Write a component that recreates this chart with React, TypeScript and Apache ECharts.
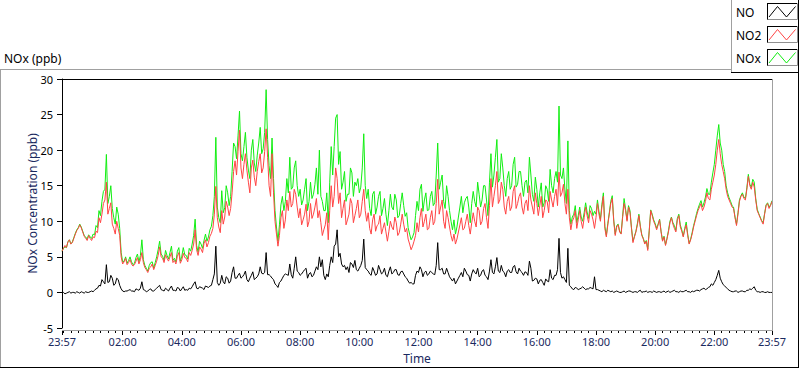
import React, { useEffect, useRef } from "react";
import * as echarts from "echarts";

// sampling interval of the series, minutes after 23:57
const SAMPLE_MINUTES = 3;

const NO2_VALUES = [
  5.8, 6.2, 6.6, 6.3, 7.1, 7.4, 6.8, 7.0, 7.6, 8.2, 8.7, 9.0, 9.5, 9.1, 8.5, 7.9, 7.6, 7.3, 8.0, 7.6, 7.3, 7.8, 7.7, 8.6, 8.4, 10.5, 9.8, 11.0,
  12.5, 13.0, 15.5, 11.0, 11.8, 12.6, 9.6, 9.0, 8.2, 10.0, 9.0, 8.0, 5.0, 4.0,
  4.3, 4.8, 3.9, 4.2, 4.6, 4.0, 3.7, 3.9, 4.4, 4.9, 4.0, 4.6, 5.6, 4.2, 3.5, 3.2, 2.8, 3.4, 3.6, 4.0, 3.2, 3.8, 4.4, 5.2, 6.4, 5.0, 4.8, 4.2, 5.3, 4.8, 4.4, 5.0, 5.6, 4.2, 4.5, 4.0, 5.1, 5.6, 4.1, 4.6, 5.5, 4.9, 4.8, 4.3, 5.6, 5.2, 5.9, 6.8, 8.8, 6.0, 5.2, 6.4, 6.1, 5.6, 6.9, 7.4, 6.4, 7.0, 7.9, 8.3,
  9.0, 11.0, 14.9, 10.5, 9.2, 8.4, 11.5, 9.6, 10.6, 12.8, 12.0, 10.8, 11.8, 14.0, 17.0, 18.5, 16.5, 19.8, 22.8, 17.5, 16.0, 18.0, 19.5, 17.2, 15.5, 14.0, 17.5, 18.6, 16.2, 15.0, 17.0, 18.4, 19.5, 16.8, 17.5, 19.8, 23.0, 19.0, 15.0, 13.5, 19.5, 14.0, 10.0, 8.2, 6.5, 8.0, 10.5, 11.5, 9.0, 10.2,
  13.0, 11.5, 14.2, 12.0, 12.5, 14.5, 13.8, 12.0, 10.5, 11.8, 9.5, 10.2, 11.0, 12.4, 9.2, 10.0, 12.5, 10.4, 11.0, 12.0, 13.2, 10.5, 11.5, 9.8, 8.0, 8.8, 9.5, 11.2, 7.4, 11.5, 15.0, 12.0, 13.5, 17.5, 16.0, 12.5, 14.0, 10.5, 11.8, 13.0, 9.5, 10.2, 11.0, 13.2, 12.5, 9.8, 10.8, 11.8, 13.0, 10.5,
  11.0, 12.8, 14.5, 11.5, 10.0, 11.2, 9.0, 8.2, 10.2, 11.0, 8.6, 9.4, 9.6, 10.8, 8.2, 9.0, 9.8, 8.5, 7.2, 8.6, 10.0, 9.2, 8.8, 10.6, 9.8, 8.0, 8.4, 9.6, 11.0, 9.6, 8.5, 9.0, 7.5, 6.8, 6.0, 6.5, 7.2, 8.0, 9.8, 8.5, 10.5, 11.8, 9.2, 10.0, 11.0, 8.8, 9.0, 10.5, 11.5, 9.5,
  10.0, 12.5, 15.9, 11.0, 12.0, 13.0, 10.0, 9.0, 11.5, 10.5, 9.2, 8.0, 7.2, 8.2, 6.8, 7.5, 8.5, 9.5, 10.5, 8.8, 9.0, 10.0, 11.0, 9.4, 8.2, 9.8, 11.2, 10.0, 9.2, 12.0, 11.5, 9.5, 10.0, 11.8, 12.5, 10.5, 9.0, 12.2, 16.0, 12.0, 13.5, 15.0, 17.0, 12.5, 13.0, 15.5, 14.5, 12.0, 11.0, 12.8,
  13.5, 11.5, 12.0, 14.2, 15.0, 11.8, 12.5, 13.5, 14.0, 12.0, 11.0, 12.5, 13.0, 11.5, 15.0, 13.0, 12.0, 11.0, 14.0, 12.5, 10.8, 12.2, 13.5, 10.5, 11.5, 13.0, 12.8, 11.2, 14.2, 13.0, 12.0, 13.5, 14.5, 12.2, 16.9, 13.5, 14.0, 15.2, 12.5, 11.0, 14.5, 10.5, 8.8, 10.0, 10.5, 11.5, 9.0, 10.2, 11.5, 10.0,
  9.0, 10.5, 12.0, 10.8, 9.8, 11.5, 11.0, 10.2, 9.0, 10.5, 12.5, 11.0, 10.0, 12.0, 13.5, 9.0, 7.8, 9.5, 11.0, 12.5, 13.2, 10.0, 8.0, 9.2, 9.5, 8.5, 8.2, 10.5, 12.5, 11.5, 10.0, 12.0, 11.2, 9.0, 7.0, 7.8, 8.5, 9.5, 10.8, 9.2, 8.0, 7.5, 6.8, 7.2, 5.9, 8.6, 11.5, 10.8, 10.0, 9.5,
  8.8, 9.5, 10.2, 8.5, 7.2, 7.8, 6.6, 7.5, 8.5, 9.8, 10.5, 9.6, 9.0, 8.5, 10.2, 10.8, 9.2, 8.6, 7.8, 8.8, 9.5, 8.0, 6.8, 7.4, 8.2, 9.2, 10.0, 10.8, 11.5, 12.0, 12.5, 11.5, 12.0, 12.8, 14.0, 13.2, 13.0, 14.5, 15.5, 16.5, 18.0, 20.0, 21.5, 19.5, 18.0, 17.0, 16.0, 14.5, 13.5, 13.0,
  12.5, 12.0, 11.8, 10.5, 9.4, 11.0, 12.8, 13.5, 13.8, 13.2, 13.0, 14.5, 16.3, 15.0, 14.5, 15.5, 14.8, 13.0, 11.5, 11.0, 10.5, 10.0, 9.6, 11.0, 12.2, 12.5, 11.8, 12.2, 12.8,
];

const NO_VALUES = [
  -0.1, 0.0, -0.2, -0.1, 0, 0.1, -0.1, 0.0, 0, -0.1, 0.1, 0.0, -0.1, 0.1, 0, -0.1, 0.1, 0.0, 0, 0.1, 0.2, 0.1, 0.3, 0.5, 0.6, 1.0, 0.9, 1.8,
  1.5, 1.2, 3.9, 1.4, 1.5, 2.4, 2.0, 1.0, 1.2, 2.0, 1.8, 1.0, 0.5, 0.2,
  0.1, 0.2, 0.2, 0.3, 0.4, 0.2, 0.2, 0.1, 0.5, 0.4, 0.3, 0.6, 1.5, 0.4, 0.3, 0.1, 0.2, 0.4, 0.5, 0.2, 0.2, 0.4, 0.6, 0.8, 1.0, 0.4, 0.3, 0.2, 0.6, 0.4, 0.2, 0.6, 0.9, 0.3, 0.3, 0.2, 0.7, 0.6, 0.2, 0.5, 0.8, 0.3, 0.4, 0.3, 0.6, 0.5, 0.8, 1.2, 1.5, 0.6, 0.5, 0.8, 0.7, 0.6, 0.4, 0.9, 0.8, 0.7, 0.9, 1.0,
  1.8, 2.6, 6.5, 1.4, 1.0, 1.3, 2.4, 1.5, 1.2, 2.2, 2.0, 1.3, 1.6, 2.8, 3.6, 2.0, 2.0, 2.4, 2.7, 2.0, 2.2, 2.5, 3.0, 1.8, 1.5, 2.0, 2.4, 2.9, 1.8, 2.0, 2.2, 2.6, 3.6, 2.7, 2.6, 2.8, 5.6, 2.5, 2.5, 2.3, 2.0, 1.8, 1.2, 1.0, 0.7, 1.4, 1.6, 2.0, 2.4, 2.6,
  2.5, 2.4, 4.0, 2.5, 2.0, 3.4, 5.0, 3.0, 2.8, 2.4, 2.6, 2.9, 3.2, 3.4, 2.0, 2.6, 2.8, 2.2, 2.4, 3.0, 3.6, 3.2, 5.0, 3.6, 4.6, 2.4, 1.8, 2.6, 2.2, 3.8, 5.0, 4.2, 6.5, 6.8, 8.8, 5.0, 5.5, 4.0, 3.6, 3.8, 3.2, 3.6, 2.8, 4.2, 4.0, 3.5, 4.5, 3.2, 3.0, 3.4,
  3.8, 4.5, 7.5, 3.5, 3.2, 3.0, 2.6, 2.4, 3.5, 3.0, 2.4, 2.6, 3.8, 3.2, 2.6, 2.8, 3.4, 2.4, 2.2, 3.0, 3.6, 2.6, 2.8, 3.2, 3.2, 2.5, 2.4, 2.9, 3.0, 2.6, 2.2, 2.0, 1.6, 1.3, 1.4, 1.2, 1.2, 2.4, 3.0, 2.8, 3.6, 3.2, 2.2, 2.8, 3.0, 2.4, 2.6, 3.0, 2.8, 2.6,
  2.5, 3.8, 7.0, 3.2, 3.2, 3.4, 2.6, 2.6, 3.4, 2.8, 2.2, 1.9, 1.6, 2.0, 1.2, 1.6, 2.0, 2.4, 2.8, 2.2, 3.4, 3.0, 2.5, 2.4, 1.6, 2.6, 3.2, 2.8, 2.6, 3.4, 2.2, 2.4, 3.0, 3.2, 2.4, 2.2, 1.8, 3.0, 4.6, 2.8, 2.6, 3.6, 4.9, 3.0, 2.8, 3.8, 3.0, 2.8, 2.2, 3.0,
  3.2, 2.8, 2.8, 3.6, 3.8, 2.9, 2.6, 3.4, 3.0, 2.8, 2.4, 2.9, 2.8, 2.4, 4.4, 3.4, 1.6, 1.7, 2.0, 1.9, 1.2, 1.7, 1.8, 1.4, 1.0, 1.9, 1.6, 1.5, 3.2, 2.0, 1.8, 2.4, 2.4, 3.2, 7.6, 2.8, 2.0, 2.2, 1.8, 1.4, 6.2, 1.0, 0.8, 0.5, 0.4, 0.7, 0.6, 0.4, 0.5, 0.6,
  0.8, 0.6, 0.4, 0.5, 0.5, 0.7, 0.6, 0.5, 2.2, 0.4, 0.4, 0.3, 0.2, 0.1, 0.3, 0.2, 0.1, 0.3, 0.2, 0.1, 0.2, 0.0, 0.1, 0.2, 0.1, 0.0, 0.0, 0.1, 0.2, 0.0, 0.1, 0.2, 0.2, 0.1, 0.0, 0.1, 0.1, 0.0, 0.2, 0.3, 0.0, 0.1, 0.1, 0.2, 0.0, 0.1, 0.1, 0.0, 0.2, 0.1,
  0.0, 0.1, 0.1, 0.0, 0.1, 0.2, 0.0, 0.1, 0.2, 0.0, 0.1, 0.2, 0.3, 0.1, 0.1, 0.0, 0.2, 0.1, 0.1, 0.2, 0.3, 0.1, 0.1, 0.0, 0.2, 0.1, 0.2, 0.3, 0.3, 0.2, 0.4, 0.5, 0.6, 0.4, 0.5, 0.7, 0.8, 1.2, 1.0, 1.4, 1.8, 2.4, 3.1, 2.0, 1.5, 1.1, 0.9, 0.7, 0.5, 0.3,
  0.2, 0.1, 0.1, 0.2, 0.2, 0.0, 0.1, 0.2, 0.2, 0.1, 0.1, 0.3, 0.3, 0.5, 0.4, 0.6, 0.8, 0.3, 0.1, 0.1, 0.0, 0.1, 0.1, 0.0, 0.0, 0.1, 0.0, 0.0, 0.0,
];

const NOX_VALUES = [
  5.8, 6.2, 6.4, 6.3, 7.1, 7.4, 6.8, 7.1, 7.7, 8.3, 8.8, 9.1, 9.6, 9.2, 8.6, 8.0, 7.8, 7.5, 8.1, 7.8, 7.6, 8.2, 8.1, 9.4, 9.1, 11.5, 10.8, 12.8,
  14.2, 14.5, 19.4, 12.5, 13.5, 15.0, 11.8, 10.5, 9.6, 12.0, 11.0, 9.0, 5.6, 4.3,
  4.4, 5.0, 4.1, 4.5, 5.0, 4.3, 3.9, 4.1, 4.9, 5.4, 4.3, 5.2, 7.4, 4.6, 3.8, 3.4, 3.0, 3.8, 4.2, 4.3, 3.4, 4.2, 5.0, 6.0, 7.2, 5.4, 5.1, 4.5, 5.9, 5.2, 4.7, 5.6, 6.5, 4.5, 4.8, 4.3, 5.8, 6.3, 4.4, 5.1, 6.3, 5.3, 5.2, 4.7, 6.2, 5.8, 6.8, 8.0, 10.3, 6.6, 5.7, 7.2, 6.8, 6.2, 7.3, 8.2, 7.2, 7.8, 8.8, 9.3,
  10.8, 13.5, 21.8, 12.0, 10.5, 9.8, 14.3, 11.2, 11.9, 15.0, 14.0, 12.2, 13.5, 17.0, 21.0, 20.5, 18.8, 22.0, 25.5, 19.5, 18.5, 20.5, 22.5, 19.0, 17.2, 16.0, 20.0, 21.5, 18.2, 17.0, 19.3, 21.0, 23.2, 19.5, 20.2, 22.5, 28.5, 21.5, 17.8, 16.0, 21.7, 16.0, 11.5, 9.2, 7.2, 9.5, 12.3, 13.5, 11.5, 12.8,
  16.0, 14.0, 19.0, 14.5, 14.8, 17.5, 18.5, 15.0, 13.5, 14.5, 12.3, 13.0, 14.5, 16.0, 11.5, 12.8, 15.5, 13.2, 13.8, 15.2, 17.5, 13.8, 20.0, 13.5, 12.8, 11.5, 11.5, 14.0, 9.8, 15.5, 20.5, 16.5, 20.5, 24.5, 25.0, 18.0, 19.8, 14.5, 15.5, 17.0, 12.8, 13.8, 13.8, 17.5, 16.8, 13.5, 15.5, 15.0, 16.0, 14.0,
  14.8, 17.5, 22.3, 15.0, 13.2, 14.5, 11.8, 10.8, 13.8, 14.2, 11.0, 12.0, 13.5, 14.2, 10.8, 11.8, 13.2, 11.0, 9.4, 11.5, 13.8, 12.0, 11.6, 13.8, 13.0, 10.5, 10.8, 12.5, 14.0, 12.2, 10.7, 11.2, 9.1, 8.2, 7.4, 7.8, 8.4, 10.8, 12.8, 11.5, 14.5, 15.2, 11.4, 13.0, 14.0, 11.5, 11.6, 13.5, 14.2, 12.2,
  12.6, 16.5, 21.0, 14.5, 15.5, 16.5, 12.8, 11.8, 15.0, 13.5, 11.5, 10.0, 8.8, 10.2, 8.2, 9.2, 10.6, 12.0, 13.5, 11.2, 12.6, 13.2, 13.5, 12.0, 9.8, 12.5, 14.2, 12.8, 12.0, 15.5, 13.8, 12.0, 13.0, 15.0, 15.0, 13.0, 10.8, 15.5, 19.5, 14.8, 16.5, 19.0, 21.5, 15.5, 16.0, 19.5, 17.5, 15.0, 13.5, 16.0,
  17.0, 14.5, 15.0, 18.0, 19.0, 14.8, 15.2, 17.0, 17.0, 15.0, 13.5, 15.5, 15.8, 14.0, 19.0, 16.5, 13.8, 12.8, 16.2, 14.5, 12.0, 14.0, 15.4, 12.0, 12.6, 15.0, 14.5, 12.8, 17.3, 15.0, 14.0, 16.0, 17.0, 15.5, 26.2, 16.5, 16.0, 17.5, 14.5, 12.5, 21.3, 11.5, 9.6, 10.6, 11.0, 12.2, 9.8, 10.8, 12.0, 10.6,
  10.0, 11.2, 12.6, 11.3, 10.4, 12.2, 11.8, 10.8, 11.4, 11.0, 13.0, 11.4, 10.3, 12.4, 14.0, 9.3, 8.0, 9.7, 11.2, 12.8, 13.6, 10.2, 8.2, 9.4, 9.6, 8.6, 8.3, 10.7, 13.2, 11.7, 10.2, 12.2, 11.5, 9.1, 7.2, 7.9, 8.6, 9.7, 11.0, 9.3, 8.1, 7.6, 6.9, 7.3, 6.1, 8.7, 11.6, 11.0, 10.2, 9.7,
  9.0, 9.6, 10.3, 8.6, 7.3, 7.9, 6.7, 7.6, 8.7, 10.0, 10.6, 9.8, 9.4, 8.7, 10.4, 11.0, 9.5, 8.8, 7.9, 9.0, 9.9, 8.2, 6.9, 7.5, 8.4, 9.4, 10.2, 11.1, 11.8, 12.4, 12.9, 12.0, 12.6, 13.4, 14.6, 13.8, 13.8, 15.5, 16.8, 18.0, 20.0, 22.0, 23.6, 21.0, 20.0, 18.0, 17.0, 15.0, 14.0, 13.3,
  12.8, 12.2, 12.0, 10.6, 9.6, 11.2, 13.0, 13.6, 14.0, 13.4, 13.2, 14.7, 16.6, 15.2, 14.8, 15.9, 15.5, 13.2, 11.7, 11.1, 10.6, 10.1, 9.8, 11.1, 12.3, 12.6, 12.0, 12.3, 12.9,
];

// x axis: minutes after 23:57
const X_TICK_MINUTES = [0, 123, 243, 363, 483, 603, 723, 843, 963, 1083, 1203, 1323, 1440];
const X_TICK_LABELS = ["23:57", "02:00", "04:00", "06:00", "08:00", "10:00", "12:00", "14:00", "16:00", "18:00", "20:00", "22:00", "23:57"];
const X_MAX = 1440;
const MINOR_TICK_MINUTES: number[] = [];
for (let m = 3; m < X_MAX; m += 15) MINOR_TICK_MINUTES.push(m);

const Y_MIN = -5;
const Y_MAX = 30;
const Y_STEP = 5;

const SERIES_NAMES = ["NO", "NO2", "NOx"];
const SERIES_COLORS = ["#000000", "#ff4444", "#11ee11"];

const FONT = "'Noto Sans', 'Open Sans', sans-serif";
const LABEL_BLUE = "#1a2a60";

function pairs(values: number[]) {
  return values.map((v, i) => [i * SAMPLE_MINUTES, v]);
}

function buildGraphic() {
  const g: any[] = [];
  const line = (x1: number, y1: number, x2: number, y2: number, stroke: string) =>
    g.push({ type: "line", silent: true, z: 10, shape: { x1, y1, x2, y2 }, style: { stroke, lineWidth: 1 } });
  // outer panel (sunken frame)
  line(0, 69.5, 731, 69.5, "#a0a0a0");
  line(0.5, 69, 0.5, 368, "#a0a0a0");
  line(0, 367.5, 799, 367.5, "#000000");
  line(798.5, 0, 798.5, 368, "#000000");
  // legend frame
  line(731.5, 0, 731.5, 72, "#a0a0a0");
  line(731, 72.5, 799, 72.5, "#000000");
  // plot area border
  line(62, 79.5, 773, 79.5, "#000000");
  line(772.5, 79, 772.5, 331, "#a0a0a0");
  line(62, 330.5, 773, 330.5, "#a0a0a0");
  // legend entries
  SERIES_NAMES.forEach((name, k) => {
    const dy = 23 * k;
    g.push({
      type: "text", silent: true, z: 10, x: 736, y: 12 + dy,
      style: { text: name, fontSize: 12, fontFamily: FONT, fill: "#000", verticalAlign: "middle", align: "left" },
    });
    g.push({ type: "rect", silent: true, z: 10, y: dy, shape: { x: 767.5, y: 3.5, width: 30, height: 16 }, style: { fill: "#fff", stroke: "#909090", lineWidth: 1 } });
    line(767, 3.5 + dy, 797, 3.5 + dy, "#000");
    line(767.5, 3 + dy, 767.5, 19.5 + dy, "#000");
    g.push({
      type: "polyline", silent: true, z: 11,
      shape: { points: [[769, 17 + dy], [777.5, 6.5 + dy], [786.5, 17 + dy], [795.5, 6.5 + dy]] },
      style: { stroke: SERIES_COLORS[k], lineWidth: 1, fill: "none" },
    });
  });
  return g;
}

export default function App() {
  const ref = useRef<HTMLDivElement>(null);
  useEffect(() => {
    if (!ref.current) return;
    const chart = echarts.init(ref.current, null, { renderer: "svg" });
    const xCommon = {
      type: "value",
      min: 0,
      max: X_MAX,
      position: "bottom",
      offset: 2,
      splitLine: { show: false },
    };
    chart.setOption({
      animation: false,
      backgroundColor: "#ffffff",
      textStyle: { fontFamily: FONT },
      title: {
        text: "NOx (ppb)",
        left: 4,
        top: 52,
        padding: 0,
        textStyle: { fontSize: 12, fontWeight: "normal", color: "#000", fontFamily: FONT },
      },
      grid: { left: 62, top: 79, width: 710, height: 250, containLabel: false },
      xAxis: [
        {
          ...xCommon,
          name: "Time",
          nameLocation: "middle",
          nameGap: 22,
          nameMoveOverlap: false,
          nameTextStyle: { fontSize: 12, color: LABEL_BLUE, fontFamily: FONT },
          axisLine: { show: false, onZero: false },
          axisTick: { show: true, length: 5, customValues: X_TICK_MINUTES, lineStyle: { color: "#000" } },
          axisLabel: {
            show: true,
            customValues: X_TICK_MINUTES,
            margin: 6,
            fontSize: 11,
            color: LABEL_BLUE,
            fontFamily: FONT,
            formatter: (v: number) => {
              const idx = X_TICK_MINUTES.indexOf(Math.round(v));
              return idx >= 0 ? X_TICK_LABELS[idx] : "";
            },
          },
        },
        {
          ...xCommon,
          axisLine: { show: false, onZero: false },
          axisTick: { show: true, length: 3, customValues: MINOR_TICK_MINUTES, lineStyle: { color: "#000" } },
          axisLabel: { show: false },
        },
      ],
      yAxis: {
        type: "value",
        min: Y_MIN,
        max: Y_MAX,
        interval: Y_STEP,
        name: "NOx Concentration (ppb)",
        nameLocation: "middle",
        nameGap: 24,
        nameMoveOverlap: false,
        nameTextStyle: { fontSize: 12, color: LABEL_BLUE, fontFamily: FONT },
        splitLine: { show: false },
        axisLine: { show: true, onZero: false, lineStyle: { color: "#000", width: 1 } },
        axisTick: { show: true, length: 5, lineStyle: { color: "#000" } },
        axisLabel: { margin: 9, fontSize: 11, color: "#000", fontFamily: FONT },
      },
      series: [
        {
          name: "NOx", type: "line", data: pairs(NOX_VALUES), showSymbol: false, symbol: "none",
          lineStyle: { color: SERIES_COLORS[2], width: 1 }, itemStyle: { color: SERIES_COLORS[2] }, z: 2,
        },
        {
          name: "NO2", type: "line", data: pairs(NO2_VALUES), showSymbol: false, symbol: "none",
          lineStyle: { color: SERIES_COLORS[1], width: 1 }, itemStyle: { color: SERIES_COLORS[1] }, z: 3,
        },
        {
          name: "NO", type: "line", data: pairs(NO_VALUES), showSymbol: false, symbol: "none",
          lineStyle: { color: SERIES_COLORS[0], width: 1 }, itemStyle: { color: SERIES_COLORS[0] }, z: 4,
        },
      ],
      graphic: buildGraphic(),
    });
    return () => chart.dispose();
  }, []);
  return <div ref={ref} style={{ position: "absolute", left: 0, top: 0, width: 800, height: 369 }} />;
}
